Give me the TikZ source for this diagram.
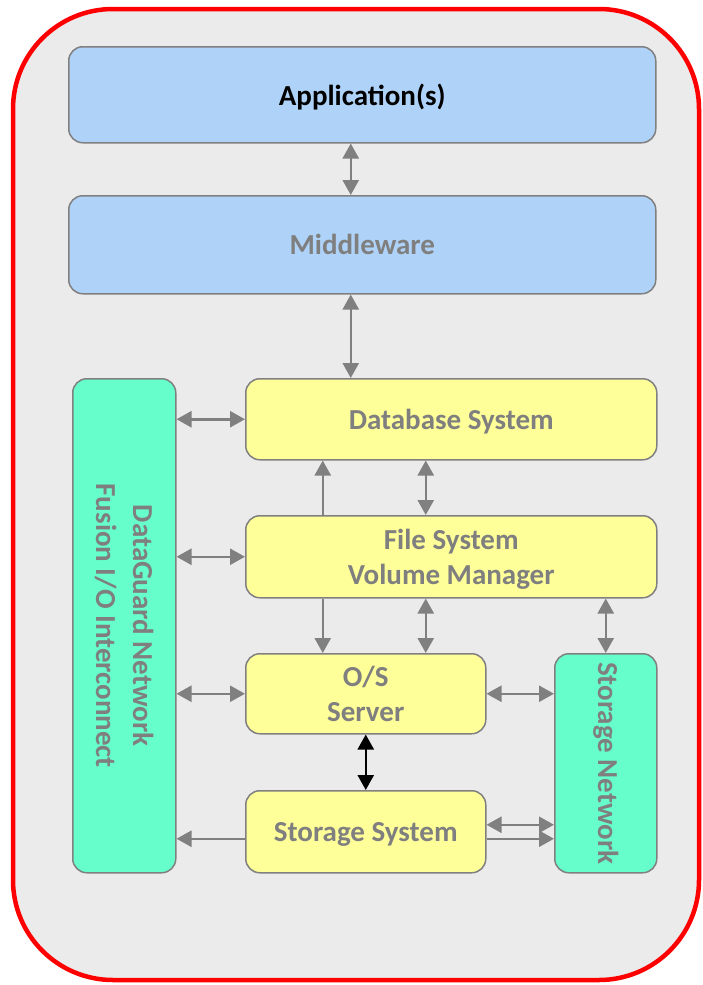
\documentclass[tikz,border=0pt]{standalone}
\usepackage{fontspec}
\setmainfont{Carlito}
\usetikzlibrary{arrows.meta}

\definecolor{bggray}{HTML}{EBEBEB}
\definecolor{edgegray}{HTML}{808080}
\definecolor{txtgray}{HTML}{7F7F7F}
\definecolor{appblue}{HTML}{AFD3F8}
\definecolor{sysyellow}{HTML}{FFFF99}
\definecolor{netgreen}{HTML}{66FFCC}

\begin{document}
\begin{tikzpicture}[x=1pt,y=-1pt]
            \tikzstyle{box} = [rectangle, rounded corners=14pt, draw=edgegray, line width=1.5pt, anchor=north west, align=center, inner sep=0pt, text depth=0pt, font=\fontsize{29}{35}\selectfont\bfseries, text=txtgray]
            \tikzstyle{arrow} = [line width=2.5pt, draw=edgegray, -{Triangle[length=15pt,width=16pt]}]
            \tikzstyle{darrow} = [arrow, {Triangle[length=15pt,width=16pt]}-{Triangle[length=15pt,width=16pt]}]

            \useasboundingbox (0,0) rectangle (702,985);
            \draw [red, line width=4.5pt, fill=bggray, rounded corners=100pt] (13,9) rectangle (699,980);

            % Nodes
            \node (app) [box, fill=appblue, text=black, minimum width=587pt, minimum height=96pt] at (68,46) {Application(s)};
            \node (mw) [box, fill=appblue, minimum width=587pt, minimum height=98pt] at (68,195) {Middleware};
            \node (db) [box, fill=sysyellow, minimum width=411pt, minimum height=81pt] at (245,378) {Database System};
            \node (fs) [box, fill=sysyellow, minimum width=411pt, minimum height=82pt] at (245,515) {File System\\Volume Manager};
            \node (os) [box, fill=sysyellow, minimum width=240pt, minimum height=80pt] at (245,653) {O/S\\Server};
            \node (ss) [box, fill=sysyellow, minimum width=240pt, minimum height=82pt] at (245,790) {Storage System};
            \node (dg) [box, fill=netgreen, minimum width=103pt, minimum height=494pt] at (72,378) {};
            \node [rotate=-90, align=center, font=\fontsize{29}{37}\selectfont\bfseries, text=txtgray] at (dg.center) {DataGuard Network\\Fusion I/O Interconnect};
            \node (sn) [box, fill=netgreen, minimum width=102pt, minimum height=219pt] at (554,653) {};
            \node [rotate=-90, font=\fontsize{29}{35}\selectfont\bfseries, text=txtgray] at (sn.center) {Storage Network};

            % Arrows
            \draw [darrow] ([xshift=-11.5pt]app.south) -- ([xshift=-11.5pt]mw.north);
            \draw [darrow] ([xshift=-11.5pt]mw.south) -- ([xshift=-11.5pt]mw.south |- db.north);
            \draw [darrow] (dg.east |- db.west) -- (db.west);
            \draw [darrow] (dg.east |- fs.west) -- (fs.west);
            \draw [darrow] (dg.east |- os.west) -- (os.west);
            \draw [arrow] ([yshift=-7pt]ss.west) -- ([yshift=-7pt]dg.east |- ss.west);
            \draw [arrow] ([xshift=-128.5pt]fs.north) -- ([xshift=-128.5pt]db.south);
            \draw [darrow] ([xshift=-25.5pt]db.south) -- ([xshift=-25.5pt]fs.north);
            \draw [arrow] ([xshift=-128.5pt]fs.south) -- ([xshift=-128.5pt]fs.south |- os.north);
            \draw [darrow] ([xshift=-25.5pt]fs.south) -- ([xshift=-25.5pt]fs.south |- os.north);
            \draw [darrow] (fs.south -| sn.north) -- (sn.north);
            \draw [darrow] (os.east) -- (os.east -| sn.west);
            \draw [darrow, draw=black] (os.south) -- (ss.north);
            \draw [darrow] ([yshift=7pt]ss.east) -- ([yshift=7pt]ss.east -| sn.west);
            \draw [arrow] ([yshift=-7pt]ss.east) -- ([yshift=-7pt]ss.east -| sn.west);
        \end{tikzpicture}
\end{document}
